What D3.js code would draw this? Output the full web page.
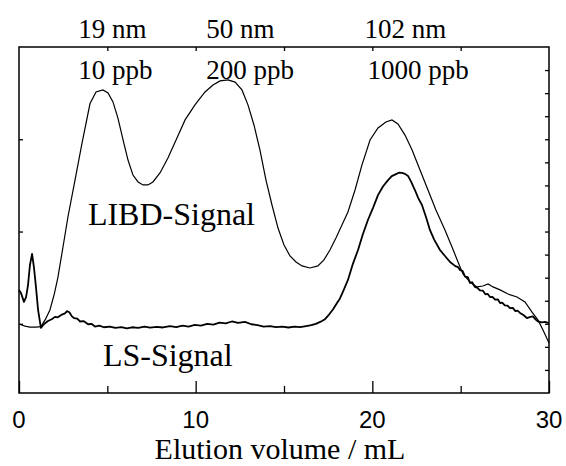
<!DOCTYPE html>
<html lang="en">
<head>
    <meta charset="UTF-8">
    <title>LIBD and LS signal vs elution volume</title>
    <script src="https://d3js.org/d3.v7.min.js"></script>
    <style>
        body { margin: 0; background: #fff; }
        text { fill: #000; }
    </style>
</head>
<body>
    <svg id="chart" width="566" height="466"></svg>

    <script>
        // LIBD signal (thin line)
        const libdVolume = [0, 0.34, 0.62, 0.96, 1.24, 1.5, 1.75, 2.0, 2.2, 2.49, 2.77, 3.17, 3.57, 4.02, 4.36, 4.75,
            5.04, 5.32, 5.6, 5.89, 6.17, 6.45, 6.74, 7.02, 7.3, 7.58, 7.98, 8.43, 8.89, 9.4, 9.96, 10.53, 10.98,
            11.38, 11.83, 12.23, 12.62, 12.96, 13.3, 13.64, 13.98, 14.32, 14.66, 15.0, 15.34, 15.68, 16.02, 16.47,
            16.92, 17.26, 17.6, 17.94, 18.28, 18.62, 19.02, 19.41, 19.87, 20.32, 20.77, 21.11, 21.45, 21.85, 22.25,
            22.7, 23.15, 23.6, 24.11, 24.51, 24.85, 25.13, 25.53, 25.92, 26.26, 26.55, 26.83, 27.23, 27.68, 28.19,
            28.64, 29.04, 29.38, 29.66, 30.0];
        const libdSignal = [2.99, 2.9, 2.86, 2.86, 2.88, 3.2, 3.6, 4.3, 5.0, 6.33, 7.63, 9.23, 10.84, 12.55, 13.05, 13.14,
            13.01, 12.62, 11.92, 10.97, 10.1, 9.45, 9.15, 9.02, 9.02, 9.15, 9.54, 10.19, 10.97, 11.84, 12.49, 13.05, 13.35,
            13.53, 13.57, 13.48, 13.14, 12.49, 11.62, 10.53, 9.23, 8.15, 7.15, 6.42, 5.94, 5.68, 5.51, 5.42,
            5.51, 5.77, 6.2, 6.72, 7.28, 7.85, 8.8, 9.88, 10.97, 11.49, 11.75, 11.84, 11.66, 11.18, 10.53,
            9.67, 8.8, 7.93, 7.07, 6.33, 5.68, 5.16, 4.81, 4.6, 4.64, 4.73, 4.6, 4.47, 4.29, 4.16,
            3.95, 3.51, 3.16, 2.73, 2.17];

        // LS signal (thicker, noisy line)
        const lsVolume = [0, 0.11, 0.28, 0.4, 0.51, 0.62, 0.74, 0.85, 0.96, 1.08, 1.24, 1.42, 1.64, 1.85, 2.04, 2.2,
            2.43, 2.6, 2.72, 2.85, 3.0, 3.11, 3.3, 3.45, 3.65, 3.91, 4.1, 4.3, 4.55, 4.8, 5.15, 5.45, 5.8, 6.1, 6.4,
            6.75, 7.1, 7.42, 7.8, 8.15, 8.55, 8.9, 9.25, 9.6, 9.95, 10.3, 10.65, 11.0, 11.35, 11.7, 12.05, 12.4,
            12.79, 13.15, 13.5, 13.85, 14.2, 14.55, 14.9, 15.25, 15.6, 15.91, 16.25, 16.55, 16.8, 17.05, 17.32,
            17.55, 17.77, 18.0, 18.17, 18.4, 18.62, 18.9, 19.19, 19.45, 19.75, 20.05, 20.32, 20.6, 20.89, 21.1,
            21.34, 21.5, 21.68, 21.85, 22.02, 22.2, 22.41, 22.6, 22.81, 23.05, 23.26, 23.5, 23.83, 24.1, 24.4,
            24.7, 24.85, 24.96, 25.1, 25.25, 25.4, 25.53, 25.65, 25.8, 25.95, 26.09, 26.25, 26.4, 26.52, 26.66,
            26.8, 26.95, 27.1, 27.23, 27.35, 27.5, 27.65, 27.79, 27.95, 28.1, 28.22, 28.36, 28.55,
            28.75, 28.95, 29.09, 29.25, 29.38, 29.6, 29.77, 30.0];
        const lsSignal = [4.47, 4.34, 3.95, 4.16, 4.68, 5.55, 6.03, 5.42, 4.6, 3.6, 2.82, 2.99, 3.12, 3.2, 3.3, 3.28,
            3.4, 3.45, 3.55, 3.5, 3.32, 3.25, 3.22, 3.1, 3.12, 2.98, 3.0, 2.88, 2.92, 2.85, 2.88, 2.82, 2.86, 2.8, 2.85,
            2.82, 2.88, 2.83, 2.87, 2.84, 2.9, 2.86, 2.92, 2.88, 2.95, 2.92, 3.0, 2.96, 3.05, 3.02, 3.1, 3.04,
            3.08, 2.98, 2.94, 2.88, 2.9, 2.86, 2.88, 2.84, 2.88, 2.86, 2.9, 2.94, 3.0, 3.08, 3.2,
            3.4, 3.62, 3.9, 4.1, 4.5, 4.9, 5.6, 6.2, 6.85, 7.5, 8.05, 8.58, 8.95, 9.23, 9.4,
            9.49, 9.55, 9.54, 9.5, 9.41, 9.15, 8.8, 8.45, 8.15, 7.6, 7.07, 6.65, 6.2, 5.95, 5.68,
            5.5, 5.46, 5.33, 5.3, 5.05, 5.02, 4.77, 4.8, 4.6, 4.56, 4.45, 4.44, 4.28, 4.3, 4.16,
            4.17, 4.05, 4.06, 3.9, 3.92, 3.8, 3.79, 3.68, 3.69, 3.55, 3.57, 3.47, 3.38,
            3.25, 3.3, 3.32, 3.18, 3.1, 3.06, 3.08, 3.03];

        // axis ticks and labels
        const xLabelTicks = [0, 10, 20, 30];
        const xMinorTicks = [5, 15, 25];
        const xTopTicks = [5, 10, 15, 20, 25];
        const yLeftTicks = [3, 7, 11];
        const yRightTicks = d3.range(1, 15);

        // peak annotations: size / concentration
        const peakSizes = ['19 nm', '50 nm', '102 nm'];
        const peakConcs = ['10 ppb', '200 ppb', '1000 ppb'];
        const peakLabelAt = [3.35, 10.6, 19.55];

        const svg = d3.select('#chart');
        const plot = { left: 19, right: 549, top: 47, bottom: 393 };

        const x = d3.scaleLinear().domain([0, 30]).range([plot.left, plot.right]);
        const y = d3.scaleLinear().domain([0, 15]).range([plot.bottom, plot.top]);

        const serif = '"Liberation Serif", "Times New Roman", serif';
        const sans = '"Liberation Sans", Arial, sans-serif';

        const line = d3.line()
            .x(d => x(d[0]))
            .y(d => y(d[1]));

        const libd = libdVolume.map((v, i) => [v, libdSignal[i]]);
        const ls = lsVolume.map((v, i) => [v, lsSignal[i]]);

        svg.append('path')
            .attr('d', line(libd))
            .attr('fill', 'none')
            .attr('stroke', '#000')
            .attr('stroke-width', 1.2);

        svg.append('path')
            .attr('d', line(ls))
            .attr('fill', 'none')
            .attr('stroke', '#000')
            .attr('stroke-width', 1.8)
            .attr('stroke-linejoin', 'round');

        // bottom axis: long ticks at labelled values, short ones between
        const gBottom = svg.append('g')
            .attr('transform', `translate(0,${plot.bottom})`);
        gBottom.call(d3.axisTop(x).tickValues(xLabelTicks).tickSize(12).tickFormat(''));
        gBottom.append('g').call(d3.axisTop(x).tickValues(xMinorTicks).tickSize(7).tickFormat(''));
        gBottom.selectAll('.domain').remove();

        svg.selectAll('.xlabel')
            .data(xLabelTicks)
            .enter().append('text')
            .attr('class', 'xlabel')
            .attr('x', d => x(d))
            .attr('y', 428)
            .attr('text-anchor', 'middle')
            .style('font-family', sans)
            .style('font-size', '24px')
            .text(d => d);

        // top axis
        svg.append('g')
            .attr('transform', `translate(0,${plot.top})`)
            .call(d3.axisBottom(x).tickValues(xTopTicks).tickSize(4).tickFormat(''))
            .select('.domain').remove();

        // left and right axes
        svg.append('g')
            .attr('transform', `translate(${plot.left},0)`)
            .call(d3.axisRight(y).tickValues(yLeftTicks).tickSize(4).tickFormat(''))
            .select('.domain').remove();

        svg.append('g')
            .attr('transform', `translate(${plot.right},0)`)
            .call(d3.axisLeft(y).tickValues(yRightTicks).tickSize(4).tickFormat(''))
            .select('.domain').remove();

        svg.selectAll('.tick line').attr('stroke', '#000').attr('stroke-width', 1.3);

        // frame
        svg.append('rect')
            .attr('x', plot.left)
            .attr('y', plot.top)
            .attr('width', plot.right - plot.left)
            .attr('height', plot.bottom - plot.top)
            .attr('fill', 'none')
            .attr('stroke', '#000')
            .attr('stroke-width', 1.5);

        // axis title
        svg.append('text')
            .attr('x', 280)
            .attr('y', 459)
            .attr('text-anchor', 'middle')
            .style('font-family', serif)
            .style('font-size', '30px')
            .text('Elution volume / mL');

        // peak annotations
        svg.selectAll('.size')
            .data(peakSizes)
            .enter().append('text')
            .attr('class', 'size')
            .attr('x', (d, i) => x(peakLabelAt[i]))
            .attr('y', 38)
            .style('font-family', serif)
            .style('font-size', '27px')
            .text(d => d);

        svg.selectAll('.conc')
            .data(peakConcs)
            .enter().append('text')
            .attr('class', 'conc')
            .attr('x', (d, i) => x(peakLabelAt[i]) + (i === 2 ? 3 : 0))
            .attr('y', 79)
            .style('font-family', serif)
            .style('font-size', '27px')
            .text(d => d);

        // series labels
        svg.append('text')
            .attr('x', x(3.9))
            .attr('y', 225)
            .style('font-family', serif)
            .style('font-size', '32px')
            .text('LIBD-Signal');

        svg.append('text')
            .attr('x', x(4.75))
            .attr('y', 366)
            .style('font-family', serif)
            .style('font-size', '32px')
            .text('LS-Signal');
    </script>
</body>
</html>
